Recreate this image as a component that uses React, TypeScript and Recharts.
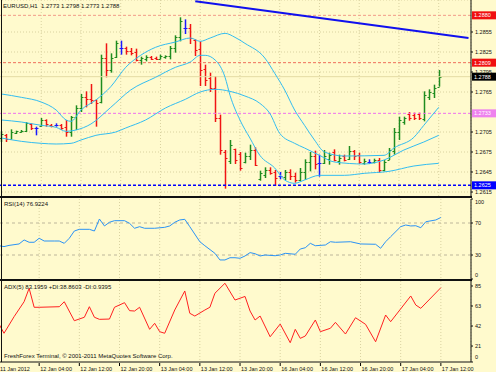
import { ComposedChart, Bar, Line, XAxis, YAxis, CartesianGrid, ReferenceLine } from "recharts";

const BG = "#fffacd";
const GRID = "#d9d2a0";
const FONT = "'Liberation Sans', Arial, sans-serif";
const BULL = "#1f8c1f";
const BEAR = "#f01414";
const DOJI = "#1a1aff";
const MA_COLOR = "#33bdf0";

// EURUSD H1 bars, 11 Jan 20:00 .. 17 Jan 12:00
const barOpen = [
  1.2696, 1.2701, 1.2694, 1.2704, 1.2705, 1.2707, 1.2717, 1.2711, 1.2714, 1.2723,
  1.2716, 1.2715, 1.2715, 1.2713, 1.2705, 1.2727, 1.2741, 1.2757, 1.2754, 1.2753,
  1.275, 1.2816, 1.2798, 1.2817, 1.2831, 1.2831, 1.2827, 1.2825, 1.2813, 1.2815,
  1.2818, 1.2816, 1.2814, 1.2817, 1.2819, 1.2831, 1.2848, 1.2861, 1.2861, 1.2843,
  1.283, 1.28, 1.2786, 1.2771, 1.2726, 1.2675, 1.2662, 1.268, 1.2672, 1.266,
  1.2669, 1.2678, 1.2634, 1.264, 1.2648, 1.2645, 1.2639, 1.2638, 1.2645, 1.2639,
  1.2633, 1.2645, 1.266, 1.2669, 1.2659, 1.2659, 1.2664, 1.2675, 1.2661, 1.2669,
  1.2664, 1.2677, 1.267, 1.2659, 1.266, 1.266, 1.2663, 1.2648, 1.2663, 1.2676,
  1.2705, 1.272, 1.2732, 1.2731, 1.2732, 1.2725, 1.2758, 1.2764, 1.2773,
];
const barHigh = [
  1.2706, 1.2702, 1.2709, 1.2707, 1.2708, 1.272, 1.2718, 1.2713, 1.2726, 1.2724,
  1.2717, 1.2718, 1.2717, 1.2723, 1.2729, 1.2745, 1.2762, 1.2766, 1.2777, 1.2754,
  1.2821, 1.2838, 1.2823, 1.2842, 1.2842, 1.2833, 1.2831, 1.283, 1.2818, 1.282,
  1.2819, 1.2818, 1.2821, 1.282, 1.2834, 1.285, 1.2877, 1.2874, 1.2867, 1.2844,
  1.2841, 1.2806, 1.2794, 1.2789, 1.2731, 1.2678, 1.2693, 1.268, 1.2675, 1.2674,
  1.2686, 1.2682, 1.2647, 1.2652, 1.2652, 1.2648, 1.2645, 1.2648, 1.2649, 1.2644,
  1.2651, 1.2664, 1.2675, 1.2677, 1.2671, 1.2678, 1.2674, 1.2679, 1.2671, 1.2671,
  1.2684, 1.2678, 1.2674, 1.2665, 1.2664, 1.2665, 1.2666, 1.2663, 1.2681, 1.2711,
  1.2728, 1.2728, 1.2735, 1.2734, 1.2734, 1.2766, 1.2769, 1.2776, 1.2798,
];
const barLow = [
  1.269, 1.269, 1.2694, 1.2702, 1.2704, 1.2705, 1.2708, 1.27, 1.2713, 1.2713,
  1.2712, 1.2713, 1.2708, 1.2698, 1.2698, 1.2708, 1.2735, 1.2742, 1.2747, 1.2713,
  1.2748, 1.2787, 1.2794, 1.2816, 1.2821, 1.2821, 1.282, 1.2811, 1.2806, 1.2811,
  1.2813, 1.2813, 1.2814, 1.2815, 1.2814, 1.2824, 1.2841, 1.2852, 1.2837, 1.2819,
  1.2774, 1.2774, 1.2765, 1.272, 1.2671, 1.262, 1.2657, 1.2657, 1.2647, 1.2658,
  1.2663, 1.2654, 1.2632, 1.2636, 1.2641, 1.2624, 1.2634, 1.2633, 1.2633, 1.2629,
  1.2631, 1.2633, 1.2646, 1.2649, 1.2638, 1.2657, 1.2656, 1.2661, 1.2656, 1.2661,
  1.2663, 1.2663, 1.2657, 1.2656, 1.2657, 1.2658, 1.2644, 1.2646, 1.2663, 1.2671,
  1.2693, 1.2716, 1.2722, 1.2723, 1.2723, 1.2721, 1.2753, 1.2756, 1.2773,
];
const barClose = [
  1.2702, 1.2694, 1.2705, 1.2706, 1.2707, 1.2719, 1.2711, 1.2711, 1.2723, 1.2717,
  1.2714, 1.2715, 1.2711, 1.2705, 1.2728, 1.2741, 1.2757, 1.2754, 1.2753, 1.2748,
  1.2816, 1.2798, 1.2816, 1.2838, 1.2831, 1.2827, 1.2824, 1.2813, 1.2816, 1.2818,
  1.2815, 1.2814, 1.2819, 1.2819, 1.2831, 1.2848, 1.2872, 1.2861, 1.2846, 1.2828,
  1.2798, 1.2783, 1.2771, 1.2726, 1.2678, 1.2666, 1.2686, 1.2663, 1.2651, 1.2669,
  1.2678, 1.2656, 1.2644, 1.2648, 1.2644, 1.2636, 1.2639, 1.2645, 1.2639, 1.2633,
  1.2645, 1.266, 1.2669, 1.2657, 1.2659, 1.2669, 1.2671, 1.2663, 1.2666, 1.2663,
  1.2677, 1.2669, 1.266, 1.2662, 1.266, 1.2663, 1.2648, 1.266, 1.2678, 1.2705,
  1.2723, 1.2726, 1.2726, 1.2726, 1.2726, 1.2761, 1.2765, 1.2771, 1.2788,
];

// the three moving-average curves, read at their turning points
const upperIdx = [0, 4, 8, 11, 13, 14, 16, 19, 22, 25, 28, 31, 35, 38, 40, 42, 45, 47, 49, 53, 55, 57, 59, 61, 63, 65, 69, 77, 79, 83, 85, 88];
const upperVal = [1.2762, 1.2757, 1.275, 1.2738, 1.2723, 1.2721, 1.2738, 1.2753, 1.2773, 1.2802, 1.282, 1.2832, 1.284, 1.2846, 1.2841, 1.2846, 1.2853, 1.2847, 1.2838, 1.2816, 1.2793, 1.2768, 1.2738, 1.2715, 1.2693, 1.2675, 1.2669, 1.267, 1.2681, 1.2697, 1.2715, 1.2742];
const lowerIdx = [0, 4, 8, 11, 13, 15, 18, 22, 26, 31, 35, 38, 40, 41, 43, 45, 46, 48, 50, 52, 55, 57, 59, 61, 64, 69, 73, 78, 83, 88];
const lowerVal = [1.2723, 1.272, 1.2715, 1.2712, 1.2706, 1.2708, 1.2717, 1.2742, 1.2768, 1.2787, 1.2802, 1.281, 1.282, 1.282, 1.2813, 1.2787, 1.276, 1.2723, 1.2696, 1.267, 1.2651, 1.2633, 1.2628, 1.2633, 1.264, 1.264, 1.2643, 1.2646, 1.2654, 1.2658];
const slowIdx = [0, 4, 8, 11, 14, 16, 19, 23, 25, 29, 33, 37, 40, 43, 46, 49, 52, 54, 56, 59, 61, 64, 67, 73, 77, 81, 85, 88];
const slowVal = [1.2696, 1.2691, 1.2688, 1.2687, 1.2688, 1.2693, 1.27, 1.2705, 1.2711, 1.2723, 1.2741, 1.2754, 1.2765, 1.2769, 1.2766, 1.2759, 1.2748, 1.2733, 1.2703, 1.2688, 1.2681, 1.267, 1.266, 1.2657, 1.2663, 1.2678, 1.269, 1.27];

const trendIdx = [39, 94];
const trendVal = [1.2901, 1.2846];

const rsiIdx = [0, 1, 2, 4, 5, 6, 7, 8, 9, 11, 12, 13, 14, 15, 16, 18, 19, 20, 21, 22, 23, 25, 26, 27, 28, 29, 31, 33, 34, 35, 36, 37, 38, 40, 41, 43, 44, 45, 46, 47, 48, 49, 50, 51, 52, 53, 55, 56, 57, 59, 60, 61, 62, 63, 65, 66, 67, 70, 72, 75, 76, 77, 78, 80, 81, 82, 83, 84, 85, 87, 88];
const rsiVal = [41.6, 40.5, 42, 43.8, 48.8, 45.9, 45.9, 50.9, 47.5, 47.5, 47.5, 44.6, 50.9, 60, 62.1, 62.1, 60, 75, 66.3, 70.9, 72.9, 72.9, 69.6, 63.4, 65.4, 63.4, 63.4, 64.6, 66.3, 70.9, 73.8, 74.6, 65.4, 46.6, 41.6, 32.1, 23.8, 23.8, 26.6, 26.6, 25.9, 28.8, 33, 31.6, 28.8, 30, 29.1, 30, 32.1, 30.9, 37.5, 39.1, 44.6, 41.6, 42.5, 46.6, 45.9, 46.6, 43.8, 43.4, 38.4, 46.6, 52.9, 65.4, 67.5, 66.3, 66.6, 64.1, 71.6, 73.8, 76.9];

const adxIdx = [0, 1, 3, 5, 6, 7, 8, 12, 13, 15, 17, 18, 19, 20, 22, 23, 25, 26, 27, 28, 30, 31, 32, 33, 35, 37, 38, 39, 41, 42, 43, 45, 47, 49, 50, 51, 52, 54, 56, 58, 59, 60, 61, 63, 64, 66, 67, 69, 71, 73, 75, 77, 78, 82, 83, 84, 88];
const adxVal = [44.6, 34.8, 52.4, 68.3, 82.6, 62.4, 62.4, 63, 68.3, 48.1, 51.8, 63, 51.8, 49.6, 49.9, 62.4, 67.3, 58.8, 58.4, 62.4, 39, 45.4, 36.5, 34.8, 59.5, 79.7, 56, 53.1, 59.5, 62.4, 77.3, 87.9, 70.1, 73.9, 58.4, 48.9, 53.1, 31.1, 44.6, 24.8, 39, 29.4, 31.9, 48.9, 36.5, 40.1, 46.4, 34, 51.3, 44.3, 25.8, 54.2, 47.1, 74.4, 64.8, 61.3, 83.2];

const timeTickIdx = [0, 8, 16, 24, 32, 40, 48, 56, 64, 72, 80, 88];
const timeLabels = [
  "11 Jan 2012", "12 Jan 04:00", "12 Jan 12:00", "12 Jan 20:00", "13 Jan 04:00", "13 Jan 12:00",
  "13 Jan 20:00", "16 Jan 04:00", "16 Jan 12:00", "16 Jan 20:00", "17 Jan 04:00", "17 Jan 12:00",
];
const priceTicks = [1.2615, 1.2645, 1.2675, 1.2705, 1.2765, 1.2795, 1.2825, 1.2855];
const rsiTicks = [0, 30, 70, 100];
const adxTicks = [4.3, 21.25, 42.5, 63.75, 85];

const PRICE_MIN = 1.26075;
const PRICE_MAX = 1.2903;
const ADX_MIN = 4.3;
const ADX_MAX = 90.3;
const SLOTS = 95;

function sparse(idx: number[], vals: number[]) {
  const m = new Map<number, number>();
  idx.forEach((k, j) => m.set(k, vals[j]));
  return m;
}

const upperMap = sparse(upperIdx, upperVal);
const lowerMap = sparse(lowerIdx, lowerVal);
const slowMap = sparse(slowIdx, slowVal);
const trendMap = sparse(trendIdx, trendVal);
const rsiMap = sparse(rsiIdx, rsiVal);
const adxMap = sparse(adxIdx, adxVal);

const rows = Array.from({ length: SLOTS }, (_, i) => {
  const has = i < barOpen.length;
  return {
    i,
    o: has ? barOpen[i] : null,
    h: has ? barHigh[i] : null,
    l: has ? barLow[i] : null,
    c: has ? barClose[i] : null,
    range: has ? [barLow[i], barHigh[i]] : null,
    upper: upperMap.get(i) ?? null,
    lower: lowerMap.get(i) ?? null,
    slow: slowMap.get(i) ?? null,
    trend: trendMap.get(i) ?? null,
    rsi: rsiMap.get(i) ?? null,
    adx: adxMap.get(i) ?? null,
  };
});

function OhlcShape(props: any) {
  const { x, y, width, height, payload } = props;
  if (!payload || payload.o == null) return null;
  const top = Math.min(y, y + height);
  const h = Math.abs(height);
  const span = payload.h - payload.l || 1;
  const yOf = (v: number) => Math.round(top + ((payload.h - v) / span) * h) + 0.5;
  const cx = Math.round(x + width / 2) + 0.5;
  const color = payload.c > payload.o ? BULL : payload.c < payload.o ? BEAR : DOJI;
  return (
    <g stroke={color} strokeWidth={1}>
      <line x1={cx} x2={cx} y1={top} y2={top + Math.max(h, 1)} strokeWidth={1.5} />
      <line x1={cx - 2} x2={cx} y1={yOf(payload.o)} y2={yOf(payload.o)} />
      <line x1={cx} x2={cx + 2} y1={yOf(payload.c)} y2={yOf(payload.c)} />
    </g>
  );
}

function AxisText({ x, y, text }: { x: number; y: number; text: string }) {
  return (
    <text x={x} y={y} dy="0.35em" fontSize={5.5} fill="#111" fontFamily={FONT} textAnchor="start">
      {text}
    </text>
  );
}

function PriceTick(props: any) {
  const { x, y, payload } = props;
  return <AxisText x={x} y={y} text={payload.value.toFixed(4)} />;
}

function RsiTick(props: any) {
  const { x, y, payload } = props;
  const v = payload.value;
  const dy = v === 100 ? 3 : v === 0 ? -4 : 0;
  return <AxisText x={x} y={y + dy} text={String(v)} />;
}

function AdxTick(props: any) {
  const { x, y, payload } = props;
  const v = payload.value;
  const low = v <= ADX_MIN;
  return <AxisText x={x} y={low ? y - 5 : y} text={low ? "0" : String(Math.floor(v))} />;
}

function TimeTick(props: any) {
  const { x, y, payload } = props;
  const label = timeLabels[timeTickIdx.indexOf(payload.value)];
  return (
    <g>
      <line x1={x} x2={x} y1={y - 1} y2={y + 2} stroke="#000" />
      <text x={x + 1} y={y + 5} dy="0.35em" fontSize={5.5} fill="#111" fontFamily={FONT}>
        {label}
      </text>
    </g>
  );
}

function PriceBox(props: any) {
  const { viewBox, text, bg } = props;
  if (!viewBox) return null;
  const left = viewBox.x + viewBox.width + 1;
  const y = viewBox.y;
  return (
    <g>
      <rect x={left} y={y - 4} width={24} height={8} fill={bg} />
      <text x={left + 2} y={y} dy="0.35em" fontSize={5.5} fill="#fff" fontFamily={FONT}>
        {text}
      </text>
    </g>
  );
}

const label = (top: number, style: any = {}) => ({
  position: "absolute" as const,
  left: 4,
  top,
  fontSize: 6,
  lineHeight: "7px",
  fontFamily: FONT,
  color: "#111",
  whiteSpace: "nowrap" as const,
  ...style,
});

const rule = (left: number, top: number, width: number, height: number) => ({
  position: "absolute" as const,
  left,
  top,
  width,
  height,
  background: "#111",
});

export default function App() {
  return (
    <div style={{ position: "absolute", left: 0, top: 0, width: 496, height: 372, background: BG, overflow: "hidden" }}>
      <div style={{ position: "absolute", left: 0, top: 0 }}>
        <ComposedChart width={496} height={197} data={rows} margin={{ top: 0, right: 0, bottom: 0, left: -1 }} barCategoryGap={0} barGap={0}>
          <CartesianGrid stroke={GRID} strokeDasharray="1 2" />
          <XAxis dataKey="i" type="category" hide ticks={timeTickIdx} interval={0} />
          <YAxis
            orientation="right"
            width={25}
            domain={[PRICE_MIN, PRICE_MAX]}
            allowDataOverflow
            ticks={priceTicks}
            interval={0}
            axisLine={{ stroke: "#111" }}
            tickLine={{ stroke: "#111" }}
            tickSize={2}
            tick={<PriceTick />}
          />
          <ReferenceLine y={1.2788} stroke="#e4dba4" label={<PriceBox text="1.2788" bg="#000" />} />
          <ReferenceLine y={1.288} stroke="#f29a88" strokeDasharray="3 2" label={<PriceBox text="1.2880" bg="#f01010" />} />
          <ReferenceLine y={1.2809} stroke="#ef6f5c" strokeDasharray="3 2" label={<PriceBox text="1.2809" bg="#f01010" />} />
          <ReferenceLine y={1.2733} stroke="#ee70ee" strokeDasharray="3 2" label={<PriceBox text="1.2733" bg="#ee82ee" />} />
          <ReferenceLine y={1.2625} stroke="#0000ff" strokeWidth={1.5} strokeDasharray="3 2" label={<PriceBox text="1.2625" bg="#0000ff" />} />
          <Line dataKey="upper" type="monotone" connectNulls stroke={MA_COLOR} strokeWidth={1} dot={false} activeDot={false} isAnimationActive={false} />
          <Line dataKey="slow" type="monotone" connectNulls stroke={MA_COLOR} strokeWidth={1} dot={false} activeDot={false} isAnimationActive={false} />
          <Line dataKey="lower" type="monotone" connectNulls stroke={MA_COLOR} strokeWidth={1} dot={false} activeDot={false} isAnimationActive={false} />
          <Bar dataKey="range" isAnimationActive={false} shape={(p: any) => <OhlcShape {...p} />} />
          <Line dataKey="trend" type="linear" connectNulls stroke="#1010ee" strokeWidth={2} dot={false} activeDot={false} isAnimationActive={false} />
        </ComposedChart>
      </div>

      <div style={{ position: "absolute", left: 0, top: 197 }}>
        <ComposedChart width={496} height={83} data={rows} margin={{ top: 2, right: 0, bottom: 1, left: -1 }}>
          <CartesianGrid stroke={GRID} strokeDasharray="1 2" horizontal={false} />
          <XAxis dataKey="i" type="category" hide ticks={timeTickIdx} interval={0} />
          <YAxis
            orientation="right"
            width={25}
            domain={[0, 100]}
            ticks={rsiTicks}
            interval={0}
            axisLine={{ stroke: "#111" }}
            tickLine={{ stroke: "#111" }}
            tickSize={2}
            tick={<RsiTick />}
          />
          <ReferenceLine y={70} stroke="#bdb69a" strokeDasharray="3 3" />
          <ReferenceLine y={30} stroke="#bdb69a" strokeDasharray="3 3" />
          <Line dataKey="rsi" type="linear" connectNulls stroke="#2b93f5" strokeWidth={1} dot={false} activeDot={false} isAnimationActive={false} />
        </ComposedChart>
      </div>

      <div style={{ position: "absolute", left: 0, top: 281 }}>
        <ComposedChart width={496} height={91} data={rows} margin={{ top: 0, right: 0, bottom: 0, left: -1 }}>
          <CartesianGrid stroke={GRID} strokeDasharray="1 2" horizontal={false} />
          <XAxis
            dataKey="i"
            type="category"
            ticks={timeTickIdx}
            interval={0}
            height={10}
            axisLine={{ stroke: "#111" }}
            tickLine={false}
            tickSize={0}
            tick={<TimeTick />}
          />
          <YAxis
            orientation="right"
            width={25}
            domain={[ADX_MIN, ADX_MAX]}
            allowDataOverflow
            ticks={adxTicks}
            interval={0}
            axisLine={{ stroke: "#111" }}
            tickLine={{ stroke: "#111" }}
            tickSize={2}
            tick={<AdxTick />}
          />
          <Line dataKey="adx" type="linear" connectNulls stroke="#ff2020" strokeWidth={1} dot={false} activeDot={false} isAnimationActive={false} />
        </ComposedChart>
      </div>

      <div style={rule(1, 0, 1, 362)} />
      <div style={rule(0, 196, 472, 2)} />
      <div style={rule(0, 279, 472, 2)} />

      <div style={label(3, { left: 3 })}>EURUSD,H1&nbsp; 1.2773 1.2798 1.2773 1.2788</div>
      <div style={label(201)}>RSI(14) 76.9224</div>
      <div style={label(284)}>ADX(5) 83.1959 +DI:38.8603 -DI:0.9395</div>
      <div style={label(353)}>FreshForex Terminal, © 2001-2011 MetaQuotes Software Corp.</div>
    </div>
  );
}
